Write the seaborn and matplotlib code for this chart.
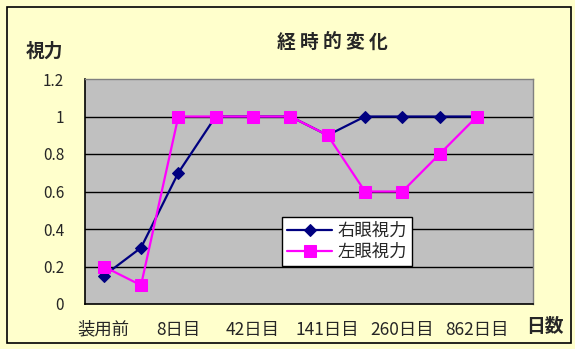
import numpy as np
import pandas as pd
import matplotlib
matplotlib.use("Agg")
import matplotlib.pyplot as plt
import seaborn as sns

categories = ["装用前", "", "8日目", "", "42日目", "", "141日目", "", "260日目", "", "862日目", ""]
right_eye = [0.15, 0.3, 0.7, 1.0, 1.0, 1.0, 0.9, 1.0, 1.0, 1.0, 1.0]
left_eye = [0.2, 0.1, 1.0, 1.0, 1.0, 1.0, 0.9, 0.6, 0.6, 0.8, 1.0]
yticks = [0, 0.2, 0.4, 0.6, 0.8, 1, 1.2]
ytick_labels = ["0", "0.2", "0.4", "0.6", "0.8", "1", "1.2"]
title = "経時的変化"

sns.set_style("white")
plt.rcParams["font.family"] = ["Noto Sans CJK JP", "DejaVu Sans"]

W, H = 575, 349
fig = plt.figure(figsize=(W / 100, H / 100), dpi=100)
fig.patch.set_facecolor("#FFFFCC")

# figure border
fig.add_artist(plt.Rectangle((7 / W, 1 - 343 / H), (571 - 7) / W, (343 - 7) / H,
                             transform=fig.transFigure, fill=False,
                             edgecolor="black", linewidth=1.2))

left, right, top, bottom = 85, 533, 79, 304
ax = fig.add_axes([left / W, 1 - bottom / H, (right - left) / W, (bottom - top) / H])
ax.set_facecolor("#C0C0C0")

df_r = pd.DataFrame({"x": np.arange(len(right_eye)) + 0.5, "y": right_eye})
df_l = pd.DataFrame({"x": np.arange(len(left_eye)) + 0.5, "y": left_eye})

sns.lineplot(data=df_r, x="x", y="y", ax=ax, color="#000080", linewidth=1.6,
             marker="D", markersize=6.5, markeredgecolor="#000080",
             label="右眼視力", zorder=3)
sns.lineplot(data=df_l, x="x", y="y", ax=ax, color="#FF00FF", linewidth=1.6,
             marker="s", markersize=9, markeredgecolor="#FF00FF",
             label="左眼視力", zorder=4)

ax.set_xlim(0, len(categories))
ax.set_ylim(0, 1.2)
for v in yticks[1:-1]:
    ax.axhline(v, color="black", linewidth=1.0, zorder=1)

ax.set_yticks(yticks)
ax.set_yticklabels(ytick_labels, fontsize=11)
ax.tick_params(axis="y", length=0, pad=15)

ax.set_xticks(np.arange(len(categories)) + 0.5)
ax.set_xticklabels(categories, fontsize=12.5)
ax.set_xticks(np.arange(len(categories) + 1), minor=True)
ax.tick_params(axis="x", which="major", length=0, pad=12)
ax.tick_params(axis="x", which="minor", direction="in", length=5, width=1, color="black")

for s in ["left", "bottom"]:
    ax.spines[s].set_color("black")
    ax.spines[s].set_linewidth(1.2)
for s in ["top", "right"]:
    ax.spines[s].set_color("#808080")
    ax.spines[s].set_linewidth(1.0)

ax.set_xlabel("")
ax.set_ylabel("")

leg = ax.legend(loc="upper left", bbox_to_anchor=((282 - left) / (right - left),
                                                   1 - (217 - top) / (bottom - top)),
                fontsize=12.5, frameon=True, fancybox=False, edgecolor="black",
                framealpha=1, borderpad=0.3, handlelength=2.6, handletextpad=0.3,
                labelspacing=0.15, borderaxespad=0)
leg.get_frame().set_linewidth(1.0)

# title with wide character spacing
step = 23
x0 = 332 - step * (len(title) - 1) / 2
for i, ch in enumerate(title):
    fig.text((x0 + i * step) / W, 1 - 42 / H, ch, ha="center", va="center",
             fontsize=13.5, fontweight="bold")
fig.text(45 / W, 1 - 51 / H, "視力", ha="center", va="center",
         fontsize=13.5, fontweight="bold")
fig.text(545 / W, 1 - 327 / H, "日数", ha="center", va="center",
         fontsize=13.5, fontweight="bold")

fig.savefig("out.png", dpi=100, facecolor=fig.get_facecolor())
